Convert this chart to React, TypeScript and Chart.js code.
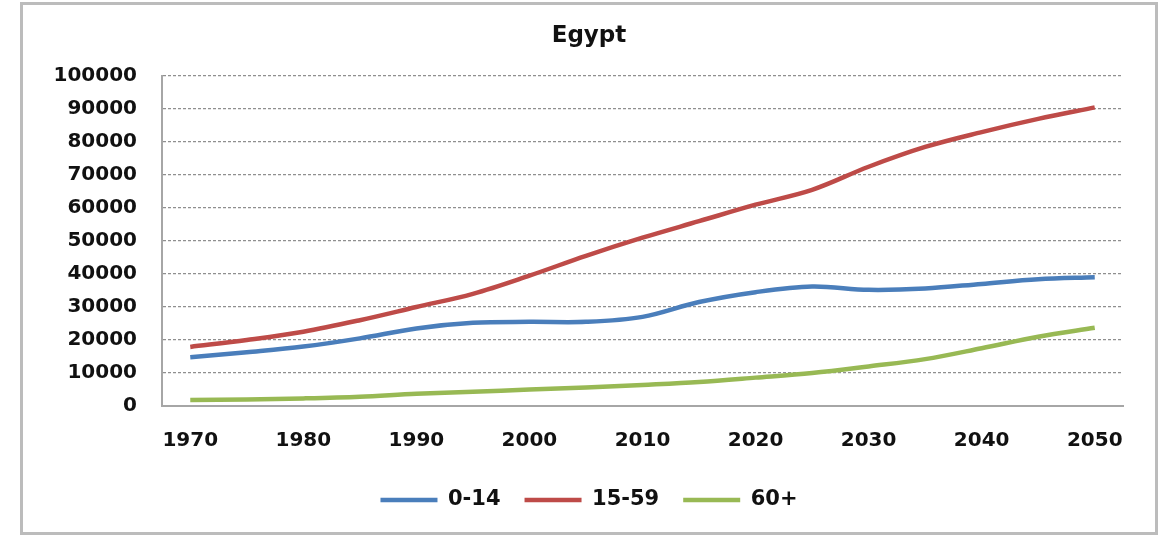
import React, { useEffect, useRef } from "react";
import { Chart, registerables } from "chart.js";

Chart.register(...registerables);

const years = [
  "1970", "1975", "1980", "1985", "1990", "1995", "2000", "2005", "2010",
  "2015", "2020", "2025", "2030", "2035", "2040", "2045", "2050",
];
const age0to14 = [
  14800, 16300, 18000, 20500, 23500, 25200, 25500, 25500, 27000,
  31500, 34500, 36200, 35200, 35600, 37000, 38400, 39000,
];
const age15to59 = [
  17900, 20000, 22500, 26000, 30000, 34000, 39500, 45500, 51000,
  56000, 61000, 65500, 72500, 78500, 83000, 87000, 90500,
];
const age60plus = [
  1800, 2000, 2300, 2800, 3700, 4300, 5000, 5600, 6400,
  7300, 8600, 10000, 12000, 14200, 17500, 21000, 23700,
];
const seriesNames = ["0-14", "15-59", "60+"];
const seriesColors = ["#4a7ebb", "#be4b48", "#98b954"];

const FONT = "'DejaVu Sans', Verdana, sans-serif";

export default function App() {
  const ref = useRef<HTMLCanvasElement | null>(null);

  useEffect(() => {
    if (!ref.current) return;
    const data = [age0to14, age15to59, age60plus];
    const chart = new Chart(ref.current, {
      type: "line",
      data: {
        labels: years,
        datasets: data.map((d, i) => ({
          label: seriesNames[i],
          data: d,
          yAxisID: "y",
          borderColor: seriesColors[i],
          backgroundColor: seriesColors[i],
          borderWidth: 4.5,
          pointRadius: 0,
          tension: 0.35,
          fill: false,
        })),
      },
      options: {
        responsive: false,
        animation: false,
        layout: { padding: { left: 0, right: 0, top: 0, bottom: 11.5 } },
        plugins: {
          title: {
            display: true,
            text: "Egypt",
            color: "#111",
            font: { family: FONT, size: 23, weight: "bold" },
            padding: { top: 17, bottom: 26.4 },
          },
          legend: {
            position: "bottom",
            labels: {
              usePointStyle: true,
              pointStyle: "line",
              pointStyleWidth: 57,
              boxWidth: 57,
              padding: 24,
              color: "#111",
              font: { family: FONT, size: 21, weight: "bold" },
            },
          },
          tooltip: { enabled: false },
        },
        scales: {
          x: {
            type: "category",
            offset: true,
            grid: { display: false, drawTicks: false },
            border: { display: true, color: "#a6a6a6", width: 2 },
            ticks: {
              autoSkip: false,
              maxRotation: 0,
              padding: 23,
              color: "#111",
              font: { family: FONT, size: 20, weight: "bold" },
              callback: (_v: any, i: number) => (i % 2 === 0 ? years[i] : ""),
            },
            afterFit: (s: any) => {
              s.height = 59.5;
            },
          },
          y: {
            position: "left",
            min: 0,
            max: 100000,
            grid: { display: true, drawTicks: false, color: "#8f8f8f", lineWidth: 1.3 },
            border: { display: true, color: "#a6a6a6", width: 2, dash: [3, 2] },
            ticks: {
              stepSize: 10000,
              padding: 25,
              color: "#111",
              font: { family: FONT, size: 20, weight: "bold" },
              callback: (v: any) => String(v),
            },
            afterFit: (s: any) => {
              s.width = 139;
            },
          },
          yRightSpace: {
            type: "linear",
            position: "right",
            display: true,
            grid: { display: false, drawTicks: false },
            border: { display: false },
            ticks: { display: false },
            afterFit: (s: any) => {
              s.width = 32;
            },
          },
        },
      },
    });
    return () => chart.destroy();
  }, []);

  return (
    <div
      style={{
        position: "absolute",
        left: 20,
        top: 2,
        width: 1138,
        height: 533,
        boxSizing: "border-box",
        border: "3px solid #bcbcbc",
        background: "#fff",
      }}
    >
      <canvas ref={ref} width={1132} height={527} style={{ display: "block", width: 1132, height: 527 }} />
    </div>
  );
}
